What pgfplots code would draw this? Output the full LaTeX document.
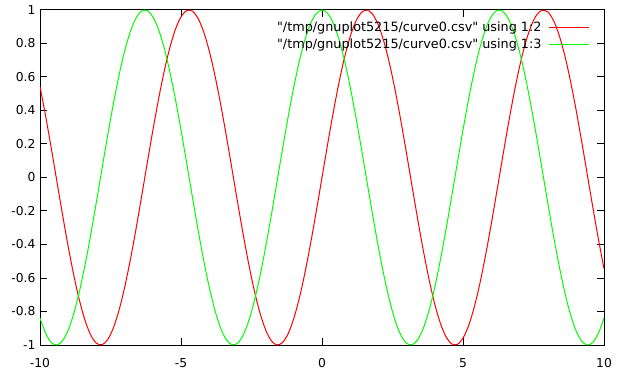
\documentclass[border=0pt]{standalone}
\usepackage{fontspec}
\setmainfont{DejaVu Sans}[Ligatures=TeXOff]
\usepackage{pgfplots}
\usepackage{pgfplotstable}
\pgfplotsset{compat=1.18}
\pgfplotstableread{
x s c
-10.0 0.5440 -0.8391
-9.8 0.3665 -0.9304
-9.6 0.1743 -0.9847
-9.4 -0.0248 -0.9997
-9.2 -0.2229 -0.9748
-9.0 -0.4121 -0.9111
-8.8 -0.5849 -0.8111
-8.6 -0.7344 -0.6787
-8.4 -0.8546 -0.5193
-8.2 -0.9407 -0.3392
-8.0 -0.9894 -0.1455
-7.8 -0.9985 0.0540
-7.6 -0.9679 0.2513
-7.4 -0.8987 0.4385
-7.2 -0.7937 0.6084
-7.0 -0.6570 0.7539
-6.8 -0.4941 0.8694
-6.6 -0.3115 0.9502
-6.4 -0.1165 0.9932
-6.2 0.0831 0.9965
-6.0 0.2794 0.9602
-5.8 0.4646 0.8855
-5.6 0.6313 0.7756
-5.4 0.7728 0.6347
-5.2 0.8835 0.4685
-5.0 0.9589 0.2837
-4.8 0.9962 0.0875
-4.6 0.9937 -0.1122
-4.4 0.9516 -0.3073
-4.2 0.8716 -0.4903
-4.0 0.7568 -0.6536
-3.8 0.6119 -0.7910
-3.6 0.4425 -0.8968
-3.4 0.2555 -0.9668
-3.2 0.0584 -0.9983
-3.0 -0.1411 -0.9900
-2.8 -0.3350 -0.9422
-2.6 -0.5155 -0.8569
-2.4 -0.6755 -0.7374
-2.2 -0.8085 -0.5885
-2.0 -0.9093 -0.4161
-1.8 -0.9738 -0.2272
-1.6 -0.9996 -0.0292
-1.4 -0.9854 0.1700
-1.2 -0.9320 0.3624
-1.0 -0.8415 0.5403
-0.8 -0.7174 0.6967
-0.6 -0.5646 0.8253
-0.4 -0.3894 0.9211
-0.2 -0.1987 0.9801
0.0 0.0000 1.0000
0.2 0.1987 0.9801
0.4 0.3894 0.9211
0.6 0.5646 0.8253
0.8 0.7174 0.6967
1.0 0.8415 0.5403
1.2 0.9320 0.3624
1.4 0.9854 0.1700
1.6 0.9996 -0.0292
1.8 0.9738 -0.2272
2.0 0.9093 -0.4161
2.2 0.8085 -0.5885
2.4 0.6755 -0.7374
2.6 0.5155 -0.8569
2.8 0.3350 -0.9422
3.0 0.1411 -0.9900
3.2 -0.0584 -0.9983
3.4 -0.2555 -0.9668
3.6 -0.4425 -0.8968
3.8 -0.6119 -0.7910
4.0 -0.7568 -0.6536
4.2 -0.8716 -0.4903
4.4 -0.9516 -0.3073
4.6 -0.9937 -0.1122
4.8 -0.9962 0.0875
5.0 -0.9589 0.2837
5.2 -0.8835 0.4685
5.4 -0.7728 0.6347
5.6 -0.6313 0.7756
5.8 -0.4646 0.8855
6.0 -0.2794 0.9602
6.2 -0.0831 0.9965
6.4 0.1165 0.9932
6.6 0.3115 0.9502
6.8 0.4941 0.8694
7.0 0.6570 0.7539
7.2 0.7937 0.6084
7.4 0.8987 0.4385
7.6 0.9679 0.2513
7.8 0.9985 0.0540
8.0 0.9894 -0.1455
8.2 0.9407 -0.3392
8.4 0.8546 -0.5193
8.6 0.7344 -0.6787
8.8 0.5849 -0.8111
9.0 0.4121 -0.9111
9.2 0.2229 -0.9748
9.4 0.0248 -0.9997
9.6 -0.1743 -0.9847
9.8 -0.3665 -0.9304
10.0 -0.5440 -0.8391
}\datatable
\begin{document}
\begin{tikzpicture}[font=\fontsize{12.3bp}{14bp}\selectfont]
\useasboundingbox (-40bp,-29bp) rectangle (578bp,345bp);
\begin{axis}[
  at={(0,0)}, anchor=south west,
  scale only axis, width=564bp, height=335bp,
  xmin=-10, xmax=10, ymin=-1, ymax=1,
  xtick={-10,-5,0,5,10},
  ytick={-1,-0.8,-0.6,-0.4,-0.2,0,0.2,0.4,0.6,0.8,1},
  tick align=inside, major tick length=7bp,
  minor tick num=0,
  axis line style={line width=1bp},
  every tick/.style={line width=1bp, black},
  /pgf/number format/assume math mode=true,
  /pgf/number format/fixed,
  ticklabel style={font=\fontsize{12.3bp}{14bp}\selectfont},
  xticklabel style={yshift=-10bp},
  yticklabel style={xshift=-1bp},
  legend cell align=right,
  legend plot pos=right,
  legend image code/.code={\draw[#1] (0bp,0bp) -- (40bp,0bp);},
  legend style={draw=none, fill=none, at={(0.98,0.976)}, anchor=north east,
    font=\fontsize{12.8bp}{15bp}\selectfont, row sep=1bp, column sep=5bp},
]
\addplot[red, line width=1bp, no markers, smooth] table[x=x, y=s]{\datatable};
\addlegendentry{"/tmp/gnuplot5215/curve0.csv" using 1:2}
\addplot[green, line width=1bp, no markers, smooth] table[x=x, y=c]{\datatable};
\addlegendentry{"/tmp/gnuplot5215/curve0.csv" using 1:3}
\end{axis}
\end{tikzpicture}
\end{document}
